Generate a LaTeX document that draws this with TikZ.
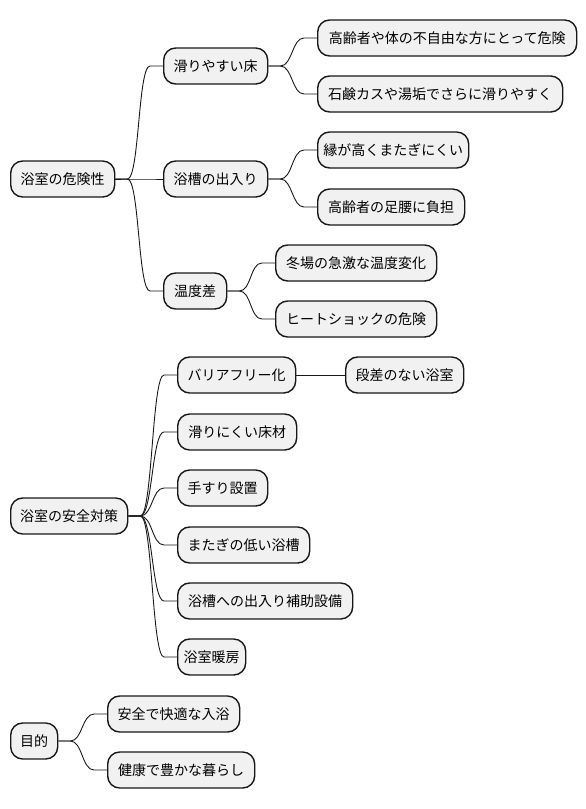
\documentclass[tikz,border=0pt]{standalone}
\usepackage{fontspec}
\setmainfont{Noto Sans CJK JP}
\usetikzlibrary{calc}
\definecolor{boxfill}{HTML}{F1F1F1}
\definecolor{boxline}{HTML}{181818}
\tikzset{
  box/.style={draw=boxline, fill=boxfill, line width=1.4pt, rounded corners=12pt,
    anchor=west, minimum height=36pt, inner sep=0pt, text=black,
    font=\fontsize{14}{17}\selectfont},
  mm/.style={to path={-- ++(12,0) .. controls +(12,0) and +(-12,0) .. ($(\tikztotarget)+(-13,0)$) -- (\tikztotarget)}},
  link/.style={draw=boxline, line width=0.9pt}
}
\begin{document}
\begin{tikzpicture}[x=1pt,y=-1pt]
\useasboundingbox (0,0) rectangle (586,809);
% first tree
\node[box, minimum width=104pt] (r1) at (10,179) {浴室の危険性};
\node[box, minimum width=104pt] (a1) at (163,66) {滑りやすい床};
\node[box, minimum width=104pt] (a2) at (163,179) {浴槽の出入り};
\node[box, minimum width=63pt] (a3) at (163,291) {温度差};
\node[box, minimum width=259pt] (b1) at (317,38) {高齢者や体の不自由な方にとって危険};
\node[box, minimum width=245pt] (b2) at (317,94) {石鹸カスや湯垢でさらに滑りやすく};
\node[box, minimum width=151pt] (b3) at (317,150) {縁が高くまたぎにくい};
\node[box, minimum width=147pt] (b4) at (317,207) {高齢者の足腰に負担};
\node[box, minimum width=161pt] (b5) at (275,263) {冬場の急激な温度変化};
\node[box, minimum width=161pt] (b6) at (275,319) {ヒートショックの危険};
% second tree
\node[box, minimum width=117pt] (r2) at (10,516) {浴室の安全対策};
\node[box, minimum width=118pt] (c1) at (177,375) {バリアフリー化};
\node[box, minimum width=119pt] (c2) at (177,432) {滑りにくい床材};
\node[box, minimum width=90pt] (c3) at (177,488) {手すり設置};
\node[box, minimum width=132pt] (c4) at (177,545) {またぎの低い浴槽};
\node[box, minimum width=175pt] (c5) at (177,601) {浴槽への出入り補助設備};
\node[box, minimum width=68pt] (c6) at (177,657) {浴室暖房};
\node[box, minimum width=118pt] (d1) at (345,375) {段差のない浴室};
% third tree
\node[box, minimum width=47pt] (r3) at (10,741) {目的};
\node[box, minimum width=132pt] (e1) at (107,714) {安全で快適な入浴};
\node[box, minimum width=147pt] (e2) at (107,770) {健康で豊かな暮らし};
% connectors
\begin{scope}[on background layer/.style={}]
\foreach \p/\c in {r1/a1, r1/a2, r1/a3, a1/b1, a1/b2, a2/b3, a2/b4, a3/b5, a3/b6,
                   r2/c1, r2/c2, r2/c3, r2/c4, r2/c5, r2/c6, r3/e1, r3/e2}
  \draw[link] (\p.east) to[mm] (\c.west);
\draw[link] (c1.east) -- (d1.west);
\end{scope}
\end{tikzpicture}
\end{document}
